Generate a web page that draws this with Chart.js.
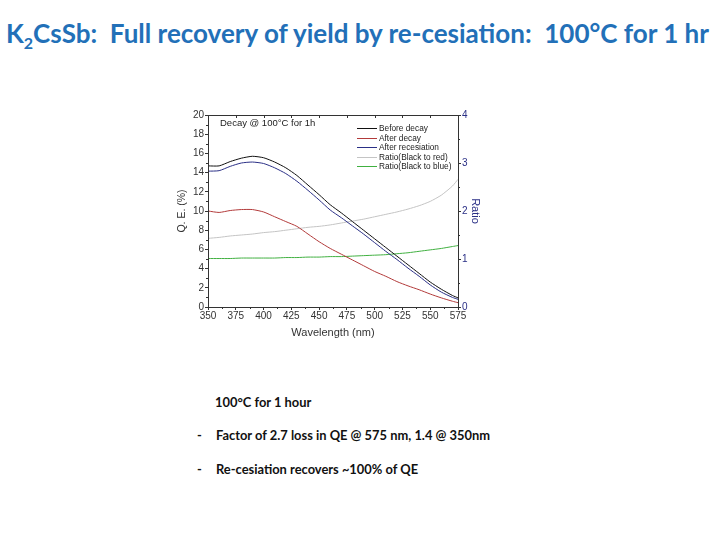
<!DOCTYPE html>
<html>
<head>
<meta charset="utf-8">
<script src="https://cdn.jsdelivr.net/npm/chart.js@4"></script>
<style>
  html, body { margin: 0; padding: 0; background: #fff; }
  body { width: 720px; height: 540px; position: relative; overflow: hidden; }
  #title { position: absolute; left: 6px; top: 17px; font-family: Lato, "Open Sans", sans-serif; font-weight: bold; font-size: 26px; color: #2270b8; white-space: nowrap; }
  #title sub { font-size: 16px; vertical-align: -6px; }
  #wrap { position: absolute; left: 176px; top: 100px; width: 306px; height: 240px; }
  .txt { position: absolute; font-family: Lato, sans-serif; font-weight: bold; font-size: 12.9px; color: #111; white-space: nowrap; }
</style>
</head>
<body>
<div id="title">K<sub>2</sub>CsSb:&nbsp; Full recovery of yield by re-cesiation:&nbsp; 100°C for 1 hr</div>
<div id="wrap"><canvas id="c" width="306" height="240"></canvas></div>
<div class="txt" style="left:215px; top:394px;">100°C for 1 hour</div>
<div class="txt" style="left:197px; top:427px;">-</div>
<div class="txt" style="left:216px; top:427px;">Factor of 2.7 loss in QE @ 575 nm, 1.4 @ 350nm</div>
<div class="txt" style="left:197px; top:461px;">-</div>
<div class="txt" style="left:216px; top:461px;">Re-cesiation recovers ~100% of QE</div>
<script>
const wavelengths = [350,360,370,380,390,400,410,420,430,440,450,460,470,480,490,500,510,520,530,540,550,560,570,575];
const beforeDecay = [14.7,14.7,15.15,15.5,15.7,15.55,15.1,14.5,13.7,12.7,11.7,10.65,9.8,8.9,8.0,7.1,6.2,5.3,4.4,3.5,2.6,1.85,1.2,0.95];
const afterDecay = [10.0,9.85,10.05,10.15,10.15,9.9,9.4,8.9,8.4,7.6,6.8,6.1,5.5,4.9,4.3,3.7,3.2,2.65,2.2,1.8,1.35,0.95,0.6,0.45];
const afterRecesiation = [14.15,14.2,14.65,15.0,15.1,14.95,14.5,13.9,13.1,12.15,11.15,10.1,9.3,8.45,7.6,6.7,5.8,4.95,4.05,3.2,2.3,1.55,1.0,0.8];
const ratioBlackRed = [1.43,1.45,1.48,1.50,1.52,1.55,1.57,1.60,1.63,1.66,1.68,1.71,1.75,1.79,1.83,1.88,1.93,1.98,2.04,2.11,2.20,2.33,2.52,2.66];
const ratioBlackBlue = [1.01,1.01,1.01,1.02,1.02,1.02,1.02,1.03,1.03,1.04,1.04,1.05,1.05,1.06,1.07,1.08,1.09,1.11,1.13,1.16,1.19,1.22,1.26,1.28];
const seriesLabels = ["Before decay","After decay","After recesiation","Ratio(Black to red)","Ratio(Black to blue)"];
const xTicks = [350,375,400,425,450,475,500,525,550,575];
const leftTicks = [0,2,4,6,8,10,12,14,16,18,20];
const rightTicks = [0,1,2,3,4];
const annotation = "Decay @ 100°C for 1h";

const pts = arr => arr.map((v,i) => ({x: wavelengths[i], y: v}));
const colors = ["#111111","#b23a3a","#2a2f86","#c4c4c4","#40b040"];
const series = [beforeDecay, afterDecay, afterRecesiation, ratioBlackRed, ratioBlackBlue];
const axes = ["y","y","y","y1","y1"];

const datasets = series.map((s,i) => ({
  label: seriesLabels[i], data: pts(s), borderColor: colors[i], backgroundColor: colors[i],
  borderWidth: 1, pointRadius: 0, tension: 0.2, yAxisID: axes[i], fill: false
}));

const FONT = '"Liberation Sans", Arial, sans-serif';
const frame = {
  id: 'frame',
  afterDraw(chart) {
    const {ctx, chartArea: a} = chart;
    ctx.save();
    ctx.strokeStyle = '#333'; ctx.lineWidth = 1;
    ctx.strokeRect(Math.round(a.left)+0.5, Math.round(a.top)+0.5, Math.round(a.right-a.left), Math.round(a.bottom-a.top));
    const xs = chart.scales.x;
    ctx.beginPath();
    for (let i = 0; i < xTicks.length - 1; i++) {
      const mx = Math.round(xs.getPixelForValue((xTicks[i]+xTicks[i+1])/2)) + 0.5;
      ctx.moveTo(mx, a.bottom); ctx.lineTo(mx, a.bottom + 2);
    }
    for (let i = 0; i < xTicks.length; i++) {
      const tx = Math.round(xs.getPixelForValue(xTicks[i])) + 0.5;
      ctx.moveTo(tx, a.top); ctx.lineTo(tx, a.top + 3);
    }
    const ys = chart.scales.y;
    for (let i = 0; i < leftTicks.length - 1; i++) {
      const my = Math.round(ys.getPixelForValue((leftTicks[i]+leftTicks[i+1])/2)) + 0.5;
      ctx.moveTo(a.left - 2, my); ctx.lineTo(a.left, my);
    }
    const y1 = chart.scales.y1;
    for (let i = 0; i < rightTicks.length - 1; i++) {
      const my = Math.round(y1.getPixelForValue((rightTicks[i]+rightTicks[i+1])/2)) + 0.5;
      ctx.moveTo(a.right, my); ctx.lineTo(a.right + 2, my);
    }
    ctx.stroke();
    ctx.fillStyle = '#222'; ctx.font = '9.5px ' + FONT;
    ctx.textBaseline = 'middle';
    ctx.fillText(annotation, a.left + 12, a.top + 8);
    const lx = a.left + 149, ly = a.top + 13, dy = 9.6;
    chart.data.datasets.forEach((d, i) => {
      const yy = Math.round(ly + i*dy) + 0.5;
      ctx.strokeStyle = d.borderColor; ctx.lineWidth = 1;
      ctx.beginPath(); ctx.moveTo(lx, yy); ctx.lineTo(lx + 20, yy); ctx.stroke();
      ctx.fillStyle = '#222'; ctx.font = '8.3px ' + FONT;
      ctx.fillText(d.label, lx + 22, yy);
    });
    ctx.restore();
  }
};

const tickFont = {family: FONT, size: 10};
new Chart(document.getElementById('c'), {
  type: 'line',
  data: { datasets },
  options: {
    responsive: false, animation: false,
    layout: { padding: { top: 15, left: 0, right: 0, bottom: 0 } },
    plugins: { legend: { display: false }, tooltip: { enabled: false } },
    scales: {
      x: {
        type: 'linear', min: 350, max: 575,
        afterBuildTicks: s => { s.ticks = xTicks.map(v => ({value: v})); },
        afterFit: s => { s.height = 33; },
        grid: { display: true, drawOnChartArea: false, tickLength: 3, color: '#333' },
        border: { display: true, color: '#333' },
        ticks: { font: tickFont, color: '#333', padding: 0, maxRotation: 0, autoSkip: false },
        title: { display: true, text: 'Wavelength (nm)', font: {family: FONT, size: 11}, color: '#333', padding: {top: 0, bottom: 0} }
      },
      y: {
        position: 'left', min: 0, max: 20,
        afterBuildTicks: s => { s.ticks = leftTicks.map(v => ({value: v})); },
        afterFit: s => { s.width = 32; },
        grid: { display: true, drawOnChartArea: false, tickLength: 3, color: '#333' },
        border: { display: true, color: '#333' },
        ticks: { font: tickFont, color: '#333', padding: 1 },
        title: { display: true, text: 'Q. E. (%)', font: {family: FONT, size: 10.5}, color: '#333', padding: {top: 0, bottom: 0} }
      },
      y1: {
        position: 'right', min: 0, max: 4,
        afterBuildTicks: s => { s.ticks = rightTicks.map(v => ({value: v})); },
        afterFit: s => { s.width = 24; },
        grid: { display: true, drawOnChartArea: false, tickLength: 3, color: '#333' },
        border: { display: true, color: '#333' },
        ticks: { font: tickFont, color: '#2a2f86', padding: 1 },
        title: { display: true, text: 'Ratio', font: {family: FONT, size: 11}, color: '#2a2f86', padding: {top: 0, bottom: 0} }
      }
    }
  },
  plugins: [frame]
});
</script>
</body>
</html>
